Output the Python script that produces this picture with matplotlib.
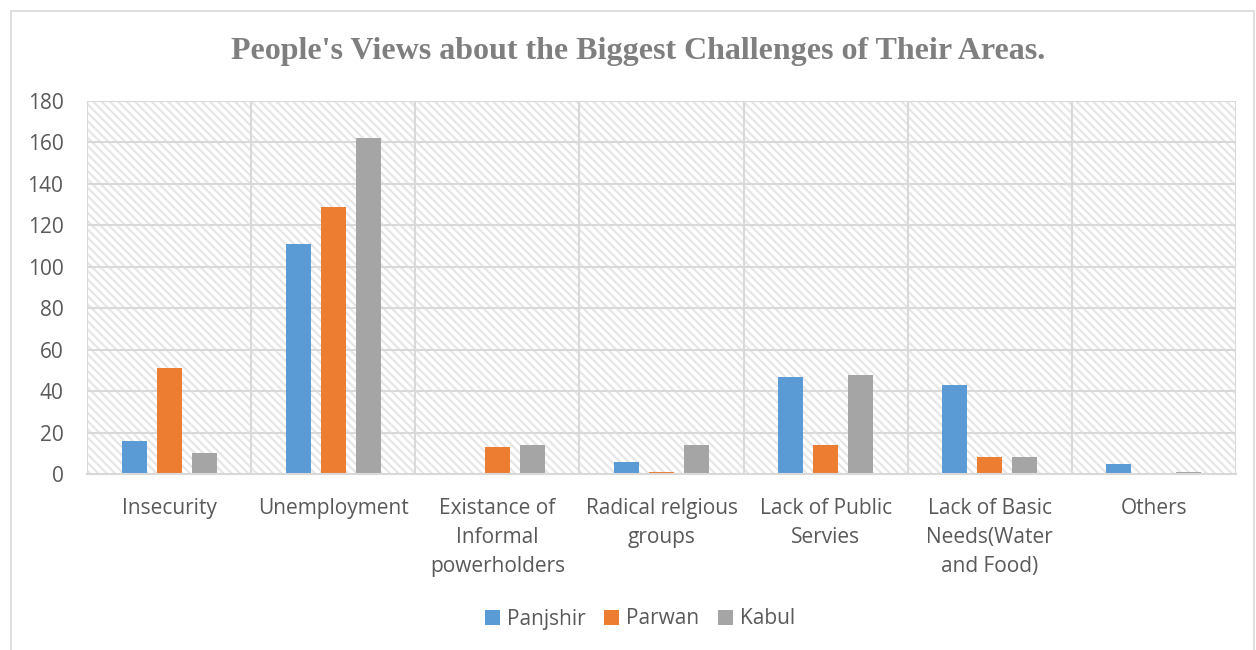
import matplotlib
matplotlib.use("Agg")
import matplotlib.pyplot as plt
import numpy as np
from matplotlib.patches import Rectangle

categories = ["Insecurity", "Unemployment", "Existance of\nInformal\npowerholders",
              "Radical relgious\ngroups", "Lack of Public\nServies",
              "Lack of Basic\nNeeds(Water\nand Food)", "Others"]
series_names = ["Panjshir", "Parwan", "Kabul"]
panjshir = [16, 111, 0, 6, 47, 43, 5]
parwan = [51, 129, 13, 1, 14, 8, 0]
kabul = [10, 162, 14, 14, 48, 8, 1]
colors = ["#5b9bd5", "#ed7d31", "#a5a5a5"]
yticks = [0, 20, 40, 60, 80, 100, 120, 140, 160, 180]

plt.rcParams['font.family'] = ['Open Sans', 'DejaVu Sans']
plt.rcParams['hatch.linewidth'] = 1.6

fig = plt.figure(figsize=(12.56, 6.5), dpi=100)
W, H = 1256, 650
ax = fig.add_axes([87 / W, 1 - 474 / H, (1236 - 87) / W, (474 - 101) / H])

# outer chart border
fig.patches.append(Rectangle((11 / W, -0.01), (1254 - 11) / W, 1 - 11 / H + 0.01,
                             transform=fig.transFigure, fill=False,
                             edgecolor="#d9d9d9", linewidth=1.2))

# hatched plot background
ax.set_facecolor("white")
bg = Rectangle((0, 0), 1, 1, transform=ax.transAxes, facecolor="white",
               edgecolor="#e6e6e6", hatch="\\\\\\\\", linewidth=0, zorder=0)
ax.add_patch(bg)

x = np.arange(len(categories))
step = 35 / 164
bw = 25 / 164
for i, (vals, name) in enumerate(zip([panjshir, parwan, kabul], series_names)):
    ax.bar(x + (i - 1) * step, vals, width=bw, color=colors[i], label=name, zorder=3)

ax.set_xlim(-0.5, len(categories) - 0.5)
ax.set_ylim(0, 180)
ax.set_yticks(yticks)
ax.set_yticklabels([str(t) for t in yticks], fontsize=15, color="#595959")
ax.set_xticks(x)
ax.set_xticklabels(categories, fontsize=15, color="#595959", linespacing=1.5)
ax.tick_params(axis="both", length=0)
ax.tick_params(axis="y", pad=17)
ax.tick_params(axis="x", pad=17)

# gridlines
for t in yticks[1:]:
    ax.axhline(t, color="#d9d9d9", linewidth=1.5, zorder=1)
for b in np.arange(-0.5, len(categories), 1.0):
    ax.axvline(b, color="#d9d9d9", linewidth=1.5, zorder=1)
for s in ["top", "right", "left"]:
    ax.spines[s].set_visible(False)
ax.spines["bottom"].set_color("#d9d9d9")
ax.spines["bottom"].set_linewidth(1.5)
ax.spines["bottom"].set_zorder(4)

fig.text(638 / W, 1 - 51 / H, "People's Views about the Biggest Challenges of Their Areas.",
         ha="center", va="center", fontsize=23, fontweight="bold",
         family="Liberation Serif", color="#7f7f7f")

fig.legend(loc="center", bbox_to_anchor=(640 / W, 1 - 619 / H), ncol=3, frameon=False,
           fontsize=15, handlelength=0.7, handleheight=0.7, handletextpad=0.35,
           columnspacing=0.9, labelcolor="#595959")

fig.savefig("out.png", dpi=100)
